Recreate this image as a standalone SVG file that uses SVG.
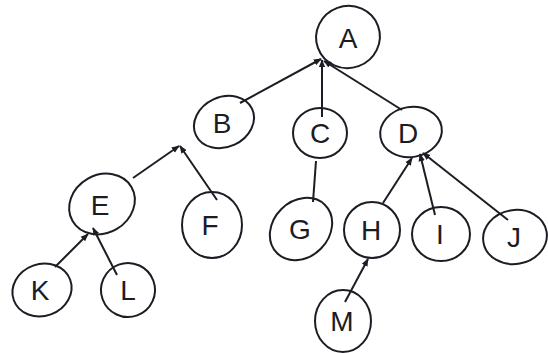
<svg xmlns="http://www.w3.org/2000/svg" width="548" height="353" viewBox="0 0 548 353">
<style>
.n ellipse{fill:none;stroke:#1c1c24;stroke-width:2}
.n text{font-family:"Liberation Sans","DejaVu Sans",sans-serif;font-size:28px;fill:#1c1c24;text-anchor:middle}
.e path{fill:none;stroke:#1c1c24;stroke-width:2;marker-end:url(#ah)}
</style>
<defs>
<marker id="ah" viewBox="0 0 10 10" refX="9" refY="5" markerWidth="4" markerHeight="4" orient="auto">
<path d="M0,1 L10,5 L0,9 z" fill="#1c1c24"/>
</marker>
</defs>
<rect width="548" height="353" fill="#ffffff"/>
<g class="e" id="connectors">
<path d="M240,103 L321,59"/>
<path d="M322,117 L322,60"/>
<path d="M402,110 L324,61"/>
<path d="M133,178 L179,146"/>
<path d="M217,200 L180,146"/>
<path d="M313,202 L316,161" style="marker-end:none"/>
<path d="M383,203 L412,158"/>
<path d="M435,215 L420,154"/>
<path d="M508,220 L423,153"/>
<path d="M55,267 L88,234"/>
<path d="M117,275 L93,228"/>
<path d="M345,302 L368,259"/>
</g>
<g class="n" id="A"><ellipse cx="348" cy="37" rx="32" ry="31" transform="rotate(-20 348 37)"/><text x="348" y="48">A</text></g>
<g class="n" id="B"><ellipse cx="224" cy="122" rx="31" ry="25" transform="rotate(-25 224 122)"/><text x="222" y="133">B</text></g>
<g class="n" id="C"><ellipse cx="320" cy="133" rx="27" ry="25"/><text x="320" y="143">C</text></g>
<g class="n" id="D"><ellipse cx="411" cy="132" rx="31" ry="25" transform="rotate(-10 411 132)"/><text x="408" y="143">D</text></g>
<g class="n" id="E"><ellipse cx="102" cy="204" rx="34" ry="29" transform="rotate(-30 102 204)"/><text x="100" y="215">E</text></g>
<g class="n" id="F"><ellipse cx="212" cy="225" rx="30" ry="33"/><text x="210" y="235">F</text></g>
<g class="n" id="G"><ellipse cx="301" cy="229" rx="34" ry="28" transform="rotate(-45 301 229)"/><text x="300" y="239">G</text></g>
<g class="n" id="H"><ellipse cx="372" cy="230" rx="28" ry="28"/><text x="371" y="240">H</text></g>
<g class="n" id="I"><ellipse cx="441" cy="234" rx="29" ry="27"/><text x="440" y="244">I</text></g>
<g class="n" id="J"><ellipse cx="515" cy="237" rx="32" ry="27" transform="rotate(-10 515 237)"/><text x="514" y="247">J</text></g>
<g class="n" id="K"><ellipse cx="42" cy="290" rx="30" ry="26" transform="rotate(-20 42 290)"/><text x="40" y="300">K</text></g>
<g class="n" id="L"><ellipse cx="128" cy="290" rx="27" ry="27" transform="rotate(-20 128 290)"/><text x="128" y="300">L</text></g>
<g class="n" id="M"><ellipse cx="343" cy="321" rx="28" ry="31"/><text x="342" y="331">M</text></g>
</svg>
